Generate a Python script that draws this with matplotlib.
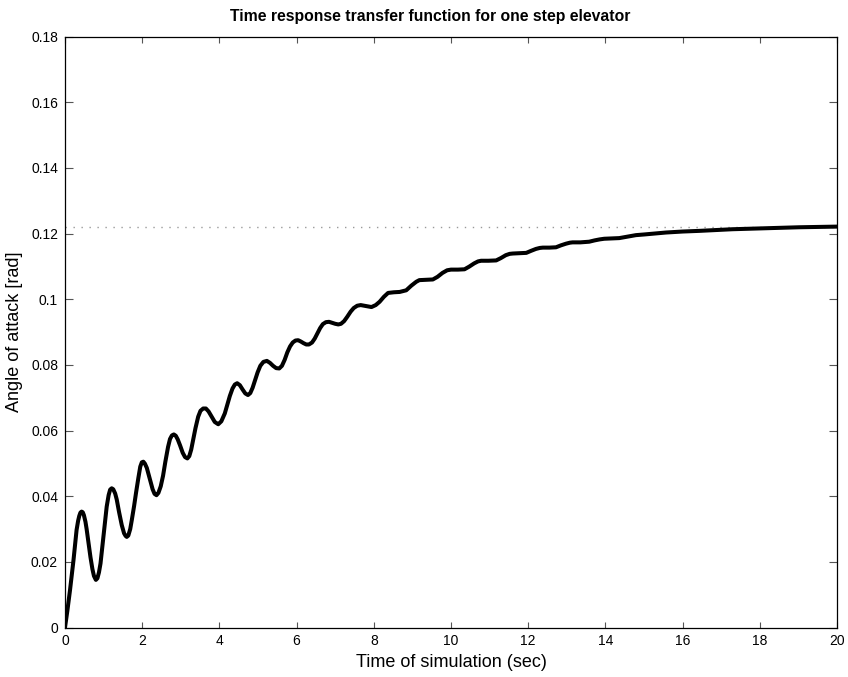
import matplotlib.pyplot as plt

# angle of attack response
t = [0.0, 0.06, 0.13, 0.22, 0.30, 0.34, 0.37, 0.40, 0.43, 0.46, 0.49, 0.53,
     0.56, 0.61, 0.66, 0.71, 0.75, 0.80, 0.84, 0.88, 0.92, 0.97, 1.03, 1.08,
     1.13, 1.17, 1.21, 1.25, 1.30, 1.34, 1.40, 1.47, 1.53, 1.57, 1.60, 1.64,
     1.69, 1.73, 1.79, 1.84, 1.90, 1.95, 1.99, 2.03, 2.07, 2.12, 2.20, 2.27,
     2.32, 2.37, 2.42, 2.48, 2.54, 2.60, 2.67, 2.72, 2.77, 2.82, 2.87, 2.92,
     2.98, 3.05, 3.11, 3.17, 3.22, 3.27, 3.32, 3.38, 3.45, 3.51, 3.58, 3.65,
     3.72, 3.80, 3.88, 3.97, 4.05, 4.14, 4.21, 4.27, 4.34, 4.40, 4.46, 4.53,
     4.60, 4.67, 4.74, 4.80, 4.86, 4.92, 4.99, 5.06, 5.14, 5.23, 5.31, 5.39,
     5.47, 5.55, 5.62, 5.69, 5.76, 5.83, 5.90, 5.97, 6.04, 6.11, 6.18, 6.25,
     6.32, 6.40, 6.47, 6.54, 6.61, 6.68, 6.76, 6.84, 6.92, 7.00, 7.08, 7.15,
     7.23, 7.31, 7.40, 7.48, 7.57, 7.66, 7.80, 7.94, 8.05, 8.15, 8.26, 8.37,
     8.52, 8.67, 8.84, 8.97, 9.10, 9.18, 9.35, 9.53, 9.65, 9.78, 9.90, 10.0,
     10.18, 10.35, 10.47, 10.60, 10.70, 10.78, 10.97, 11.17, 11.29, 11.42,
     11.52, 11.60, 11.78, 11.95, 12.07, 12.20, 12.30, 12.38, 12.55, 12.72,
     12.85, 12.98, 13.08, 13.15, 13.35, 13.58, 13.72, 13.85, 13.97, 14.17,
     14.36, 14.55, 14.79, 15.0, 15.57, 16.0, 16.43, 17.29, 18.16, 19.02, 20.0]
alpha = [0.0, 0.0050, 0.0114, 0.0205, 0.0297, 0.0325, 0.0340, 0.0350, 0.0353,
         0.0351, 0.0342, 0.0322, 0.0300, 0.0258, 0.0214, 0.0178, 0.0157,
         0.0145, 0.0150, 0.0168, 0.0195, 0.0250, 0.0317, 0.0368, 0.0403,
         0.0420, 0.0424, 0.0421, 0.0408, 0.0390, 0.0352, 0.0312, 0.0287,
         0.0279, 0.0276, 0.0280, 0.0300, 0.0327, 0.0370, 0.0410, 0.0455,
         0.0490, 0.0503, 0.0505, 0.0499, 0.0486, 0.0452, 0.0421, 0.0407,
         0.0403, 0.0410, 0.0430, 0.0462, 0.0505, 0.0550, 0.0574, 0.0585,
         0.0588, 0.0584, 0.0573, 0.0555, 0.0532, 0.0519, 0.0515, 0.0522,
         0.0542, 0.0571, 0.0607, 0.0642, 0.0660, 0.0667, 0.0667, 0.0658,
         0.0642, 0.0626, 0.0619, 0.0628, 0.0652, 0.0680, 0.0705, 0.0728,
         0.0740, 0.0744, 0.0738, 0.0725, 0.0713, 0.0708, 0.0714, 0.0730,
         0.0752, 0.0777, 0.0797, 0.0809, 0.0812, 0.0806, 0.0797, 0.0790,
         0.0789, 0.0797, 0.0815, 0.0838, 0.0856, 0.0868, 0.0874, 0.0875,
         0.0871, 0.0866, 0.0862, 0.0862, 0.0868, 0.0880, 0.0896, 0.0912,
         0.0924, 0.0930, 0.0931, 0.0928, 0.0925, 0.0923, 0.0925, 0.0933,
         0.0946, 0.0962, 0.0973, 0.0980, 0.0982, 0.0979, 0.0976, 0.0982,
         0.0992, 0.1007, 0.1019, 0.1021, 0.1022, 0.1027, 0.1041, 0.1053,
         0.1058, 0.1059, 0.1060, 0.1068, 0.1080, 0.1088, 0.1090, 0.1090,
         0.1091, 0.1099, 0.1109, 0.1115, 0.1117, 0.1117, 0.1118, 0.1125,
         0.1134, 0.1138, 0.1139, 0.1140, 0.1141, 0.1147, 0.1153, 0.1156,
         0.1157, 0.1157, 0.1158, 0.1164, 0.1169, 0.1172, 0.1173, 0.1173,
         0.1175, 0.1179, 0.1182, 0.1184, 0.1185, 0.1186, 0.1190, 0.1195,
         0.1197, 0.1203, 0.1206, 0.1208, 0.1213, 0.1216, 0.1219, 0.1221]
steady_state = 0.1221

xticks = list(range(0, 21, 2))
yticks = [0, 0.02, 0.04, 0.06, 0.08, 0.1, 0.12, 0.14, 0.16, 0.18]
ytick_labels = ["0", "0.02", "0.04", "0.06", "0.08", "0.1", "0.12", "0.14", "0.16", "0.18"]

plt.rcParams["font.family"] = ["Liberation Sans", "DejaVu Sans"]

fig = plt.figure(figsize=(8.48, 6.77), dpi=100)
ax = fig.add_axes([65 / 848, 1 - 627.5 / 677, 772 / 848, 591 / 677])

ax.plot([0, 20], [steady_state, steady_state], color="#9a9a9a",
        linewidth=1.0, linestyle=(0, (1, 4.75)))
ax.plot(t, alpha, color="black", linewidth=2.9, solid_joinstyle="round",
        solid_capstyle="round")

ax.set_xlim(0, 20)
ax.set_ylim(0, 0.18)
ax.set_xticks(xticks)
ax.set_yticks(yticks)
ax.set_yticklabels(ytick_labels)
ax.tick_params(axis="both", direction="in", top=True, right=True,
               labelsize=10, width=0.8, color="#555555", pad=5)
ax.tick_params(axis="x", length=4.3)
ax.tick_params(axis="y", length=5.8)
for s in ax.spines.values():
    s.set_linewidth(0.9)

ax.set_xlabel("Time of simulation (sec)", fontsize=13, labelpad=4)
ax.set_ylabel("Angle of attack [rad]", fontsize=13, labelpad=6)
ax.set_title("Time response transfer function for one step elevator",
             fontsize=11.3, fontweight="bold", pad=11, x=(430 - 65) / 772)

fig.savefig("out.png", dpi=100)
